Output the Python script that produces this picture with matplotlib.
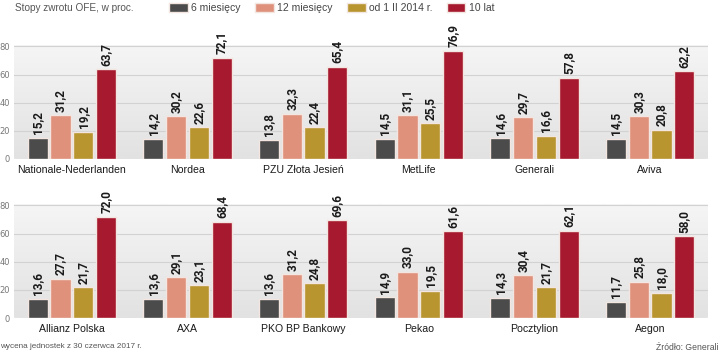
import numpy as np
import matplotlib
matplotlib.use("Agg")
import matplotlib.pyplot as plt
from matplotlib.patches import FancyBboxPatch
from matplotlib.colors import LinearSegmentedColormap

# dane
series = ["6 miesięcy", "12 miesięcy", "od 1 II 2014 r.", "10 lat"]
colors = ["#4b4b4b", "#e0917c", "#b8952f", "#a6192e"]

names_top = ["Nationale-Nederlanden", "Nordea", "PZU Złota Jesień", "MetLife", "Generali", "Aviva"]
m6_top = [15.2, 14.2, 13.8, 14.5, 14.6, 14.5]
m12_top = [31.2, 30.2, 32.3, 31.1, 29.7, 30.3]
od2014_top = [19.2, 22.6, 22.4, 25.5, 16.6, 20.8]
y10_top = [63.7, 72.1, 65.4, 76.9, 57.8, 62.2]

names_bot = ["Allianz Polska", "AXA", "PKO BP Bankowy", "Pekao", "Pocztylion", "Aegon"]
m6_bot = [13.6, 13.6, 13.6, 14.9, 14.3, 11.7]
m12_bot = [27.7, 29.1, 31.2, 33.0, 30.4, 25.8]
od2014_bot = [21.7, 23.1, 24.8, 19.5, 21.7, 18.0]
y10_bot = [72.0, 68.4, 69.6, 61.6, 62.1, 58.0]

yticks = [0, 20, 40, 60, 80]

W, H = 720, 353
fig = plt.figure(figsize=(W / 100, H / 100), dpi=100)
fig.patch.set_facecolor("white")

num_font = ["Roboto", "DejaVu Sans"]
lab_font = ["Liberation Sans", "DejaVu Sans"]
bg_cmap = LinearSegmentedColormap.from_list("bg", ["#f5f5f5", "#e2e2e2"])


def panel(ax, names, data):
    ax.set_xlim(-0.5, 5.5)
    ax.set_ylim(0, 81)
    # tlo z gradientem i zaokraglonymi rogami
    grad = np.linspace(0, 1, 100).reshape(-1, 1)
    im = ax.imshow(grad, extent=[-0.5, 5.5, 0, 81], aspect="auto",
                   cmap=bg_cmap, origin="upper", zorder=0)
    box = FancyBboxPatch((-0.5, 0), 6, 81, boxstyle="round,pad=0,rounding_size=0.08",
                         transform=ax.transData, facecolor="none", edgecolor="none",
                         mutation_aspect=81 / 6 * 0.17)
    ax.add_patch(box)
    im.set_clip_path(box)
    for y in yticks[1:]:
        ax.axhline(y, color="#d2d2d2", lw=0.8, zorder=1)
    x = np.arange(len(names))
    step = 0.197
    wid = 0.175
    for k, vals in enumerate(data):
        pos = x + (k - 1.5) * step
        ax.bar(pos, vals, wid, color=colors[k], edgecolor="#f3e6e0",
               linewidth=1.0, zorder=2, label=series[k])
        for p, v in zip(pos, vals):
            ax.text(p, v + 2.5, f"{v:.1f}".replace(".", ","), rotation=90,
                    ha="center", va="bottom", fontsize=8.5, fontweight="bold",
                    family=num_font, color="#1a1a1a", zorder=3)
    ax.set_xticks(x)
    ax.set_xticklabels(names, fontsize=7.6, family=lab_font, color="#1a1a1a")
    ax.set_yticks(yticks)
    ax.set_yticklabels([str(t) for t in yticks], fontsize=6, color="#777777")
    ax.tick_params(axis="both", length=0)
    ax.tick_params(axis="y", pad=3)
    ax.tick_params(axis="x", pad=4)
    for s in ax.spines.values():
        s.set_visible(False)
    ax.set_facecolor("none")


left = 14 / W
width = (708 - 14) / W
ax1 = fig.add_axes([left, (H - 159) / H, width, 114 / H])
ax2 = fig.add_axes([left, (H - 318) / H, width, 114 / H])
panel(ax1, names_top, [m6_top, m12_top, od2014_top, y10_top])
panel(ax2, names_bot, [m6_bot, m12_bot, od2014_bot, y10_bot])

handles, labels = ax1.get_legend_handles_labels()
leg = fig.legend(handles, labels, loc="center left", bbox_to_anchor=(160 / W, 1 - 8 / H),
                 ncol=4, frameon=False, handlelength=1.75, handleheight=1.05,
                 handletextpad=0.3, columnspacing=1.45,
                 prop={"family": lab_font, "size": 7.5})
for t in leg.get_texts():
    t.set_color("#444444")

fig.text(15 / W, 1 - 8 / H, "Stopy zwrotu OFE, w proc.", fontsize=7.2, color="#555555",
         va="center", ha="left", family=lab_font)
fig.text(0, 1 - 347 / H, "wycena jednostek z 30 czerwca 2017 r.", fontsize=5.9,
         color="#555555", va="center", ha="left", family=lab_font)
fig.text(1 - 2 / W, 1 - 347 / H, "Źródło: Generali", fontsize=6.2,
         color="#555555", va="center", ha="right", family=lab_font)

fig.savefig("out.png", dpi=100)
